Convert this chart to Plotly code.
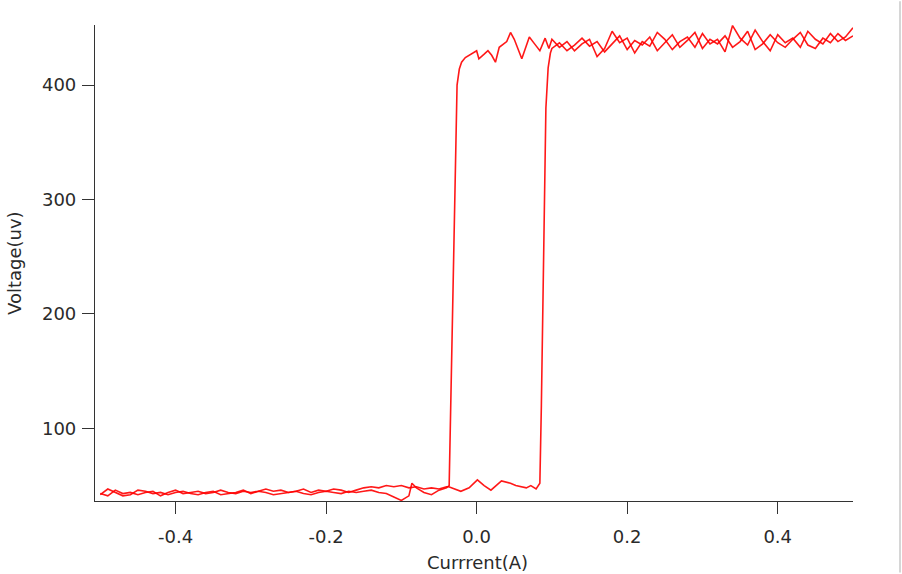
import plotly.graph_objects as go

# ---- data ----
# upward sweep, low (superconducting) branch then switching to high branch
up_x = [-0.50, -0.49, -0.48, -0.47, -0.46, -0.45, -0.44, -0.43, -0.42, -0.41,
        -0.40, -0.39, -0.38, -0.37, -0.36, -0.35, -0.34, -0.33, -0.32, -0.31,
        -0.30, -0.29, -0.28, -0.27, -0.26, -0.25, -0.24, -0.23, -0.22, -0.21,
        -0.20, -0.19, -0.18, -0.17, -0.16, -0.15, -0.14, -0.13, -0.12, -0.11,
        -0.10, -0.09, -0.08, -0.07, -0.06, -0.05, -0.04, -0.037, -0.021, -0.01,
        0.001, 0.01, 0.019, 0.033, 0.045, 0.052, 0.066, 0.072, 0.079, 0.084,
        0.086, 0.089, 0.092, 0.095, 0.098,
        0.10, 0.11, 0.12, 0.13, 0.14, 0.15, 0.16, 0.17, 0.18, 0.19,
        0.20, 0.21, 0.22, 0.23, 0.24, 0.25, 0.26, 0.27, 0.28, 0.29,
        0.30, 0.31, 0.32, 0.33, 0.34, 0.35, 0.36, 0.37, 0.38, 0.39,
        0.40, 0.41, 0.42, 0.43, 0.44, 0.45, 0.46, 0.47, 0.48, 0.49, 0.50]
up_v = [43, 41, 46, 43, 44, 42, 44, 45, 41, 44,
        46, 43, 44, 45, 43, 44, 46, 44, 43, 45,
        44, 45, 47, 45, 46, 44, 45, 47, 44, 46,
        45, 47, 46, 44, 46, 48, 49, 48, 50, 49,
        50, 48, 49, 47, 48, 47, 49, 49, 45, 48,
        55, 50, 46, 54, 52, 50, 48, 50, 47, 52,
        120, 260, 380, 415, 428,
        432, 437, 430, 435, 441, 434, 438, 429, 436, 443,
        431, 439, 435, 442, 430, 437, 444, 433, 439, 446,
        432, 440, 436, 443, 433, 438, 447, 431, 436, 444,
        437, 433, 440, 446, 435, 432, 441, 437, 445, 439, 443]

# downward sweep, high (resistive) branch then switching to low branch
down_x = [0.50, 0.49, 0.48, 0.47, 0.46, 0.45, 0.44, 0.43, 0.42, 0.41,
          0.40, 0.39, 0.38, 0.37, 0.36, 0.35, 0.34, 0.33, 0.32, 0.31,
          0.30, 0.29, 0.28, 0.27, 0.26, 0.25, 0.24, 0.23, 0.22, 0.21,
          0.20, 0.19, 0.18, 0.17, 0.16, 0.15, 0.14, 0.13, 0.12, 0.11,
          0.10, 0.096, 0.091, 0.084, 0.077, 0.07, 0.06, 0.05, 0.045, 0.04,
          0.03, 0.025, 0.02, 0.015, 0.01, 0.003, 0.0, -0.01, -0.015, -0.02,
          -0.023, -0.026, -0.031, -0.0365,
          -0.04, -0.05, -0.06, -0.07, -0.08, -0.086, -0.09, -0.10, -0.11, -0.12,
          -0.13, -0.14, -0.15, -0.16, -0.17, -0.18, -0.19, -0.20, -0.21, -0.22,
          -0.23, -0.24, -0.25, -0.26, -0.27, -0.28, -0.29, -0.30, -0.31, -0.32,
          -0.33, -0.34, -0.35, -0.36, -0.37, -0.38, -0.39, -0.40, -0.41, -0.42,
          -0.43, -0.44, -0.45, -0.46, -0.47, -0.48, -0.49, -0.50]
down_v = [450, 442, 438, 445, 436, 440, 447, 433, 441, 437,
          444, 430, 438, 448, 435, 441, 452, 429, 440, 436,
          445, 433, 442, 438, 431, 440, 446, 434, 438, 428,
          441, 437, 447, 432, 425, 440, 436, 430, 438, 433,
          440, 432, 441, 430, 436, 442, 423, 440, 446, 438,
          433, 420, 426, 430, 427, 423, 430, 426, 424, 420,
          414, 400, 220, 50,
          48, 46, 42, 44, 48, 52, 41, 37, 40, 43,
          44, 46, 45, 44, 45, 43, 44, 45, 44, 42,
          43, 45, 44, 43, 42, 44, 45, 43, 46, 44,
          43, 42, 45, 44, 42, 43, 45, 44, 42, 44,
          43, 45, 46, 42, 41, 44, 47, 42]

x_ticks = [-0.4, -0.2, 0.0, 0.2, 0.4]
x_tick_labels = ["-0.4", "-0.2", "0.0", "0.2", "0.4"]
y_ticks = [100, 200, 300, 400]
y_tick_labels = ["100", "200", "300", "400"]
x_title = "Currrent(A)"
y_title = "Voltage(uv)"

red = "rgb(255,0,0)"
fig = go.Figure()
fig.add_trace(go.Scatter(x=up_x, y=up_v, mode="lines",
                         line=dict(color=red, width=1.6), opacity=0.9,
                         showlegend=False))
fig.add_trace(go.Scatter(x=down_x, y=down_v, mode="lines",
                         line=dict(color=red, width=1.6), opacity=0.9,
                         showlegend=False))

axis_font = dict(family="DejaVu Sans", size=18, color="#2a2a2a")
fig.update_layout(
    width=902, height=574,
    margin=dict(l=95, r=49, t=25, b=73),
    paper_bgcolor="white", plot_bgcolor="white",
    font=axis_font,
    xaxis=dict(range=[-0.507, 0.5], tickvals=x_ticks, ticktext=x_tick_labels,
               showgrid=False, zeroline=False, showline=True, automargin=False,
               linecolor="#333333", linewidth=1.2, ticks="outside",
               ticklen=12, tickcolor="#333333", tickwidth=1.2,
               tickfont=axis_font, ticklabelstandoff=7),
    yaxis=dict(range=[36.5, 452.5], tickvals=y_ticks, ticktext=y_tick_labels,
               showgrid=False, zeroline=False, showline=True, automargin=False,
               linecolor="#333333", linewidth=1.2, ticks="outside",
               ticklen=12, tickcolor="#333333", tickwidth=1.2,
               tickfont=axis_font, ticklabelstandoff=2),
    annotations=[
        dict(text=x_title, xref="paper", yref="paper",
             x=(477 - 95) / 758, y=(501 - 562) / 476,
             xanchor="center", yanchor="middle", showarrow=False, font=axis_font),
        dict(text=y_title, xref="paper", yref="paper",
             x=(14 - 95) / 758, y=(501 - 263) / 476, textangle=-90,
             xanchor="center", yanchor="middle", showarrow=False, font=axis_font),
    ],
    shapes=[dict(type="line", xref="paper", yref="paper",
                 x0=(900 - 95) / 758, x1=(900 - 95) / 758, y0=-0.15, y1=1.05,
                 line=dict(color="#c8c8c8", width=1.5))],
)

fig.write_html("out.html",
               config={"displayModeBar": False},
               post_script="document.body.style.margin='0';")
